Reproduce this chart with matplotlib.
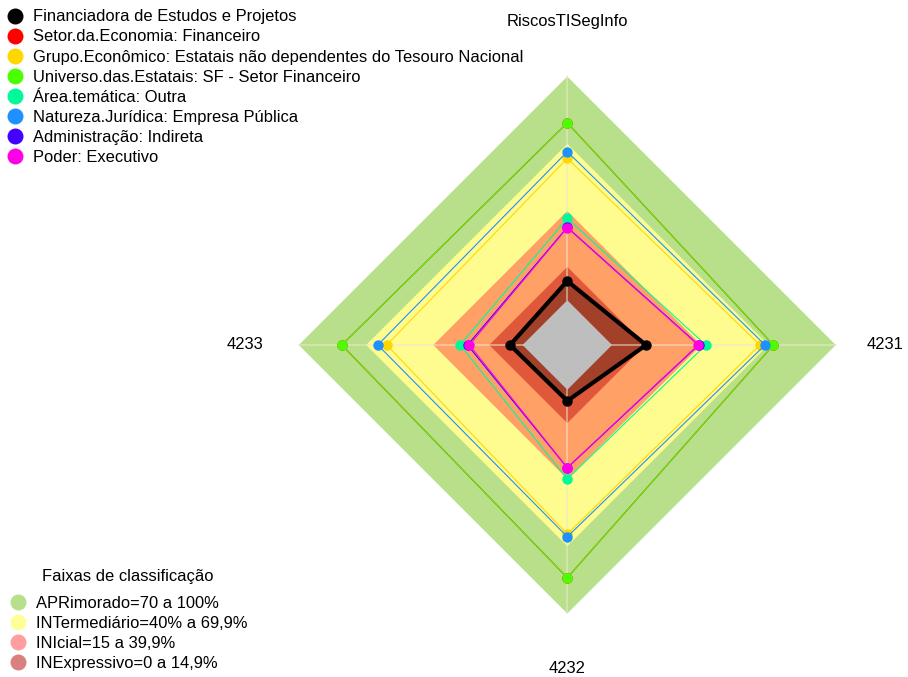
import numpy as np
from matplotlib import pyplot as plt
from matplotlib.lines import Line2D

plt.rc('font', family=['Liberation Sans', 'DejaVu Sans'], size=11.9)

eixos = ['RiscosTISegInfo', '4231', '4232', '4233']

nomes = ['Financiadora de Estudos e Projetos',
         'Setor.da.Economia: Financeiro',
         'Grupo.Econômico: Estatais não dependentes do Tesouro Nacional',
         'Universo.das.Estatais: SF - Setor Financeiro',
         'Área.temática: Outra',
         'Natureza.Jurídica: Empresa Pública',
         'Administração: Indireta',
         'Poder: Executivo']
cores = ['#000000', '#FF0000', '#FFD700', '#4CFF00',
         '#00FA9A', '#1E90FF', '#4400FF', '#FF00E6']

# valores (%) na ordem dos eixos
financiadora = [8.6, 15.2, 5.0, 5.6]
setor = [79.3, 72.1, 84.0, 80.8]
grupo = [63.4, 66.1, 64.5, 60.7]
universo = [79.3, 72.1, 84.0, 80.8]
area = [36.6, 41.9, 39.9, 27.9]
natureza = [66.4, 68.4, 65.7, 64.7]
administracao = [32.6, 38.7, 34.9, 24.6]
poder = [32.4, 38.5, 34.8, 23.8]
series = [financiadora, setor, grupo, universo, area, natureza, administracao, poder]

faixas = ['APRimorado=70 a 100%', 'INTermediário=40% a 69,9%',
          'INIcial=15 a 39,9%', 'INExpressivo=0 a 14,9%']
faixas_lim = [100, 69.9, 39.9, 14.9]
faixas_cor = ['#B8E08A', '#FFFC8F', '#FFA066', '#E0583A']
faixas_leg = ['#B8E08A', '#FFFF99', '#FF9E9E', '#D98080']

seg = 5
ang = np.deg2rad([0, 90, 180, 270])


def xy(vals):
    # mesma escala do radarchart: centro deslocado de 1/(seg+1)
    r = (1 + seg * np.asarray(vals, float) / 100) / (seg + 1)
    x = r * np.sin(ang)
    y = r * np.cos(ang)
    return np.append(x, x[0]), np.append(y, y[0])


fig = plt.figure(figsize=(9.08, 6.77), dpi=100)
ax = fig.add_axes([0, 0, 1, 1])
ax.set_xlim(-2.113, 1.269)
ax.set_ylim(-1.2365, 1.2849)
ax.axis('off')

for v, c in zip(faixas_lim, faixas_cor):
    x, y = xy([v] * 4)
    ax.fill(x, y, color=c, lw=0, zorder=1)

x, y = xy(financiadora)
ax.fill(x, y, color='black', alpha=0.27, lw=0, zorder=2)
x, y = xy([0] * 4)
ax.fill(x, y, color='#BEBEBE', lw=0, zorder=3)

r0 = 1 / (seg + 1)
for a in ang:
    ax.plot([r0 * np.sin(a), np.sin(a)], [r0 * np.cos(a), np.cos(a)],
            color='#F0E4D0', lw=1.2, alpha=0.6, zorder=4)

for i, vals in enumerate(series):
    x, y = xy(vals)
    lw = 3 if i == 0 else 0.8
    ax.plot(x, y, color=cores[i], lw=lw, zorder=5 + i)
    ax.plot(x[:-1], y[:-1], 'o', color=cores[i], ms=7.5, mec='none', zorder=5 + i)

ax.text(0, 1.203, eixos[0], ha='center', va='center')
ax.text(1.183, 0, eixos[1], ha='center', va='center')
ax.text(0, -1.203, eixos[2], ha='center', va='center')
ax.text(-1.200, 0, eixos[3], ha='center', va='center')

h1 = [Line2D([], [], marker='o', ls='', color=c, ms=11.5, mec='none') for c in cores]
leg1 = ax.legend(h1, nomes, loc='upper left', bbox_to_anchor=(0.0, 0.996),
                 bbox_transform=fig.transFigure, frameon=False, borderaxespad=0,
                 handlelength=1, handletextpad=0.6, labelspacing=0.31)
ax.add_artist(leg1)

h2 = [Line2D([], [], marker='o', ls='', color=c, ms=11.5, mec='none') for c in faixas_leg]
ax.legend(h2, faixas, loc='lower left',
          bbox_to_anchor=(0.003, -0.001), bbox_transform=fig.transFigure,
          frameon=False, borderaxespad=0, handlelength=1, handletextpad=0.6,
          labelspacing=0.31)
fig.text(128 / 908, 1 - 576 / 677, 'Faixas de classificação', ha='center', va='center')

fig.savefig('out.png', dpi=100)
